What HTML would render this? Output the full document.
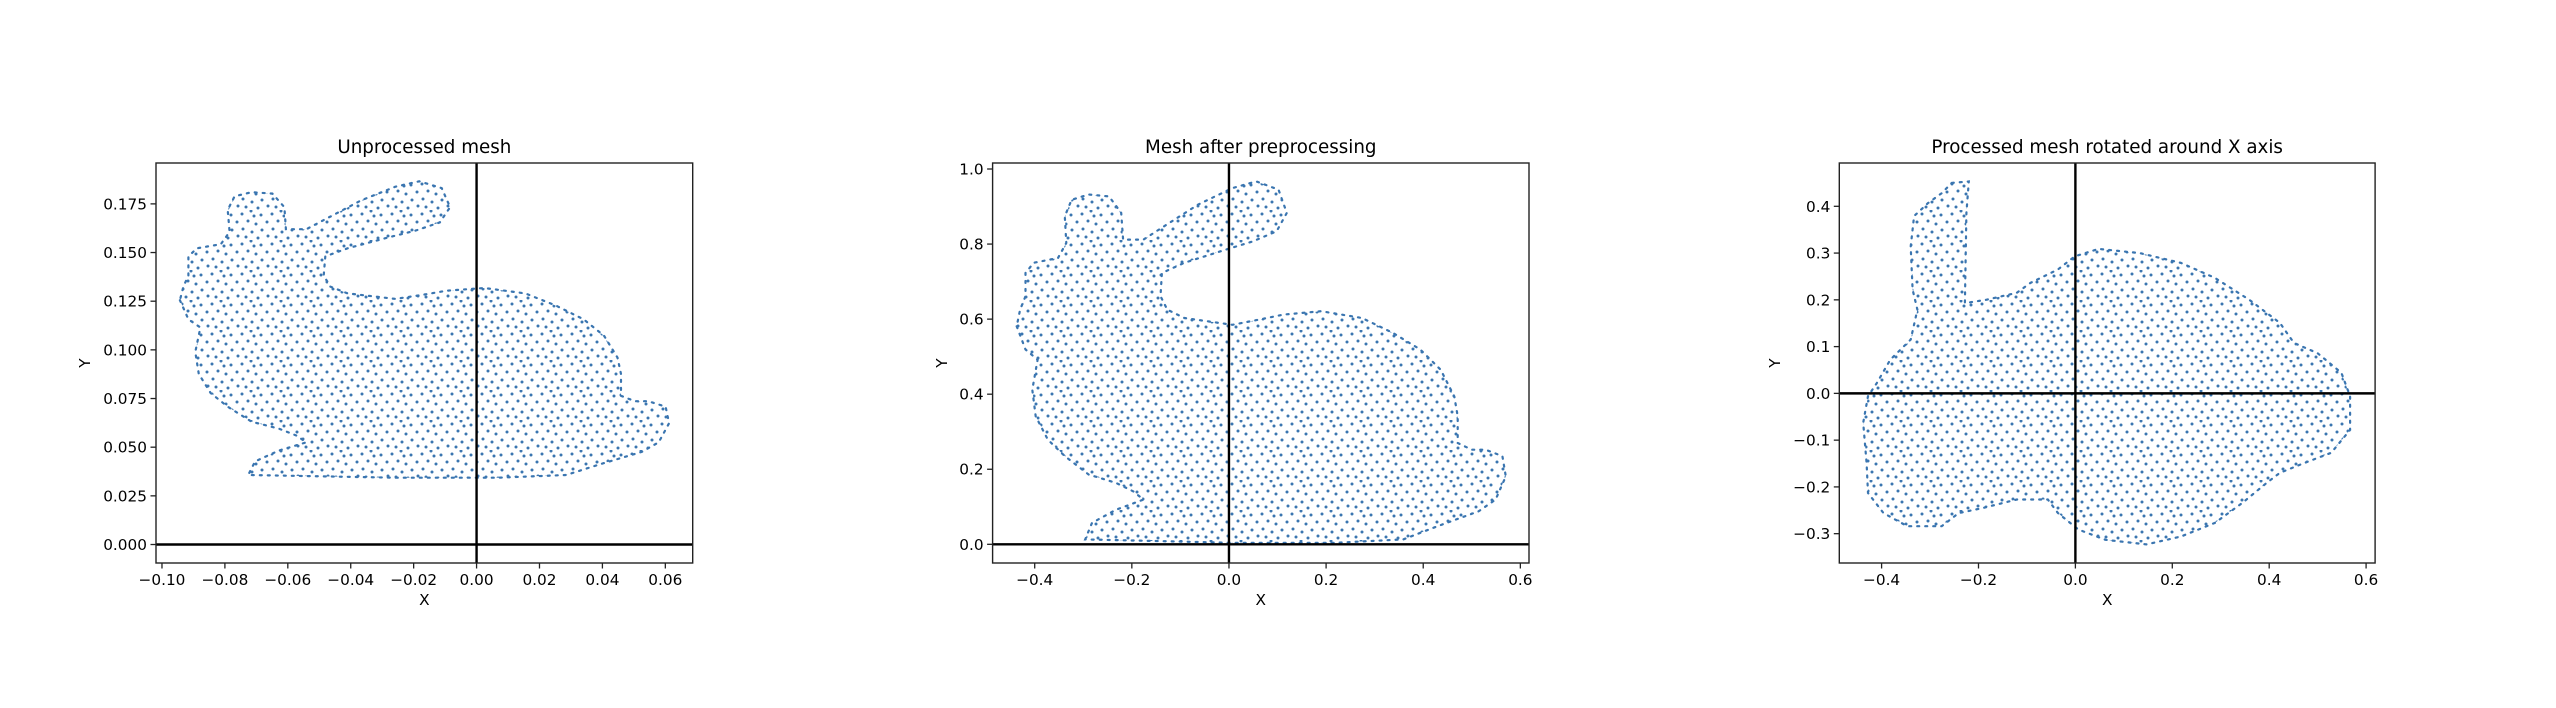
<!DOCTYPE html>
<html><head><meta charset="utf-8">
<style>
html,body{margin:0;padding:0;background:#fff;}
svg{display:block;font-family:"DejaVu Sans","Liberation Sans",sans-serif;}
</style></head>
<body>
<svg id="fig" width="2556" height="708" viewBox="0 0 2556 708" xmlns="http://www.w3.org/2000/svg">
<defs>
<pattern id="dots" patternUnits="userSpaceOnUse" width="30" height="30">
<circle cx="2" cy="4" r="1.5" fill="#3a75b0"/>
<circle cx="11" cy="1" r="1.5" fill="#3a75b0"/>
<circle cx="21" cy="5" r="1.5" fill="#3a75b0"/>
<circle cx="27" cy="12" r="1.5" fill="#3a75b0"/>
<circle cx="8" cy="11" r="1.5" fill="#3a75b0"/>
<circle cx="16" cy="14" r="1.5" fill="#3a75b0"/>
<circle cx="3" cy="19" r="1.5" fill="#3a75b0"/>
<circle cx="22" cy="20" r="1.5" fill="#3a75b0"/>
<circle cx="12" cy="22" r="1.5" fill="#3a75b0"/>
<circle cx="28" cy="26" r="1.5" fill="#3a75b0"/>
<circle cx="6" cy="27" r="1.5" fill="#3a75b0"/>
<circle cx="18" cy="28" r="1.5" fill="#3a75b0"/>
<circle cx="14" cy="6" r="1.5" fill="#3a75b0"/>
</pattern>
</defs>
</svg>
<script>
// Chart 1: Unprocessed mesh — outline of point cloud (x, y)
const c1X = [-0.0943,-0.0916,-0.0878,-0.0894,-0.0883,-0.0845,-0.0791,-0.0715,-0.0628,-0.0573,-0.0541,-0.0628,-0.0704,-0.0726,-0.0258,0.0068,0.0285,0.0394,0.0525,0.0579,0.0612,0.0601,0.0546,0.0503,0.0459,0.0459,0.0448,0.0405,0.0340,0.0253,0.0155,0.0025,-0.0095,-0.0171,-0.0258,-0.0410,-0.0465,-0.0486,-0.0481,-0.0410,-0.0280,-0.0193,-0.0117,-0.0084,-0.0111,-0.0182,-0.0258,-0.0367,-0.0475,-0.0541,-0.0606,-0.0611,-0.0649,-0.0715,-0.0769,-0.0791,-0.0785,-0.0813,-0.0889,-0.0916,-0.0916,-0.0932];
const c1Y = [0.1255,0.1157,0.1115,0.0989,0.0876,0.0778,0.0708,0.0631,0.0595,0.0560,0.0525,0.0483,0.0427,0.0357,0.0343,0.0343,0.0357,0.0413,0.0476,0.0525,0.0623,0.0708,0.0736,0.0736,0.0764,0.0876,0.0960,0.1073,0.1157,0.1227,0.1290,0.1318,0.1304,0.1283,0.1262,0.1290,0.1325,0.1382,0.1480,0.1522,0.1578,0.1613,0.1655,0.1733,0.1831,0.1866,0.1838,0.1768,0.1676,0.1620,0.1620,0.1733,0.1803,0.1810,0.1789,0.1719,0.1606,0.1543,0.1522,0.1480,0.1382,0.1325];
const c1XTicks = [-0.10,-0.08,-0.06,-0.04,-0.02,0.00,0.02,0.04,0.06];
const c1XLabels = ["\u22120.10","\u22120.08","\u22120.06","\u22120.04","\u22120.02","0.00","0.02","0.04","0.06"];
const c1YTicks = [0,0.025,0.05,0.075,0.1,0.125,0.15,0.175];
const c1YLabels = ["0.000","0.025","0.050","0.075","0.100","0.125","0.150","0.175"];

// Chart 2: Mesh after preprocessing
const c2X = [-0.437,-0.419,-0.394,-0.405,-0.398,-0.373,-0.338,-0.289,-0.233,-0.197,-0.176,-0.233,-0.282,-0.296,0.007,0.218,0.359,0.429,0.514,0.549,0.570,0.563,0.528,0.500,0.471,0.471,0.464,0.436,0.394,0.338,0.274,0.190,0.112,0.063,0.007,-0.092,-0.127,-0.141,-0.138,-0.092,-0.007,0.049,0.098,0.119,0.102,0.056,0.007,-0.064,-0.134,-0.176,-0.218,-0.222,-0.247,-0.289,-0.324,-0.338,-0.335,-0.352,-0.402,-0.419,-0.419,-0.430];
const c2Y = [0.581,0.519,0.492,0.412,0.341,0.279,0.235,0.186,0.164,0.141,0.119,0.092,0.057,0.013,0.004,0.004,0.013,0.048,0.088,0.119,0.181,0.235,0.252,0.252,0.270,0.341,0.394,0.465,0.519,0.563,0.603,0.621,0.612,0.599,0.585,0.603,0.625,0.661,0.723,0.750,0.785,0.807,0.834,0.883,0.945,0.967,0.949,0.905,0.847,0.812,0.812,0.883,0.927,0.932,0.918,0.874,0.803,0.763,0.750,0.723,0.661,0.625];
const c2XTicks = [-0.4,-0.2,0,0.2,0.4,0.6];
const c2XLabels = ["\u22120.4","\u22120.2","0.0","0.2","0.4","0.6"];
const c2YTicks = [0,0.2,0.4,0.6,0.8,1.0];
const c2YLabels = ["0.0","0.2","0.4","0.6","0.8","1.0"];

// Chart 3: Processed mesh rotated around X axis
const c3X = [-0.255,-0.220,-0.225,-0.228,-0.184,-0.121,-0.093,-0.036,-0.001,0.048,0.133,0.218,0.288,0.359,0.422,0.451,0.500,0.549,0.567,0.567,0.528,0.472,0.422,0.394,0.345,0.288,0.218,0.147,0.062,0.006,-0.036,-0.057,-0.121,-0.191,-0.241,-0.276,-0.347,-0.396,-0.428,-0.431,-0.438,-0.428,-0.410,-0.382,-0.340,-0.326,-0.336,-0.340,-0.333,-0.304,-0.276];
const c3Y = [0.450,0.453,0.386,0.193,0.200,0.215,0.236,0.265,0.293,0.309,0.300,0.279,0.247,0.200,0.151,0.108,0.086,0.044,-0.006,-0.078,-0.127,-0.149,-0.170,-0.192,-0.234,-0.277,-0.306,-0.323,-0.313,-0.291,-0.256,-0.227,-0.227,-0.245,-0.256,-0.284,-0.284,-0.256,-0.213,-0.149,-0.063,-0.006,0.022,0.072,0.115,0.179,0.222,0.314,0.379,0.407,0.428];
const c3XTicks = [-0.4,-0.2,0,0.2,0.4,0.6];
const c3XLabels = ["\u22120.4","\u22120.2","0.0","0.2","0.4","0.6"];
const c3YTicks = [-0.3,-0.2,-0.1,0,0.1,0.2,0.3,0.4];
const c3YLabels = ["\u22120.3","\u22120.2","\u22120.1","0.0","0.1","0.2","0.3","0.4"];

const NS = "http://www.w3.org/2000/svg";
const fig = document.getElementById("fig");
function mk(tag, attrs, parent){
  const e = document.createElementNS(NS, tag);
  for (const k in attrs) e.setAttribute(k, attrs[k]);
  (parent||fig).appendChild(e);
  return e;
}

const charts = [
  {key:"unprocessed", title:"Unprocessed mesh", L:156, R:692.7, T:163, B:563, xmin:-0.1019, xmax:0.0687, ymin:-0.0095, ymax:0.196, xs:c1X, ys:c1Y, xt:c1XTicks, xl:c1XLabels, yt:c1YTicks, yl:c1YLabels, ylabX:85},
  {key:"preprocessed", title:"Mesh after preprocessing", L:992.6, R:1529, T:163, B:563, xmin:-0.4867, xmax:0.6178, ymin:-0.0498, ymax:1.016, xs:c2X, ys:c2Y, xt:c2XTicks, xl:c2XLabels, yt:c2YTicks, yl:c2YLabels, ylabX:942},
  {key:"rotated", title:"Processed mesh rotated around X axis", L:1839.3, R:2375.1, T:163, B:563, xmin:-0.4873, xmax:0.6186, ymin:-0.3627, ymax:0.4926, xs:c3X, ys:c3Y, xt:c3XTicks, xl:c3XLabels, yt:c3YTicks, yl:c3YLabels, ylabX:1775}
];

charts.forEach(function(c, idx){
  const sx = v => c.L + (v - c.xmin) / (c.xmax - c.xmin) * (c.R - c.L);
  const sy = v => c.B - (v - c.ymin) / (c.ymax - c.ymin) * (c.B - c.T);
  const g = mk("g", {});
  
  

  const clipId = "clip" + idx;
  const cp = mk("clipPath", {id: clipId}, g);
  mk("rect", {x:c.L, y:c.T, width:c.R-c.L, height:c.B-c.T}, cp);

  let pts = [];
  for (let i = 0; i < c.xs.length; i++) pts.push(sx(c.xs[i]).toFixed(1) + "," + sy(c.ys[i]).toFixed(1));
  const poly = mk("polygon", {points: pts.join(" "), fill: "url(#dots)", stroke: "#3a75b0", "stroke-width": 2.2, "stroke-dasharray": "2 6", "stroke-linecap": "round", "clip-path": "url(#" + clipId + ")"}, g);
  
  

  const hz = mk("line", {x1:c.L, x2:c.R, y1:sy(0), y2:sy(0), stroke:"#000", "stroke-width":2.4}, g);
  
  
  const vz = mk("line", {x1:sx(0), x2:sx(0), y1:c.T, y2:c.B, stroke:"#000", "stroke-width":2.4}, g);
  
  

  const fr = mk("rect", {x:c.L, y:c.T, width:c.R-c.L, height:c.B-c.T, fill:"none", stroke:"#222", "stroke-width":1.4}, g);
  
  

  c.xt.forEach(function(v, i){
    const x = sx(v);
    const t = mk("line", {x1:x, x2:x, y1:c.B, y2:c.B+5.5, stroke:"#222", "stroke-width":1.3}, g);
    
    
    const lb = mk("text", {x:x, y:c.B+22, "font-size":15.3, "text-anchor":"middle", fill:"#000"}, g);
    lb.textContent = c.xl[i];
    
    
  });
  c.yt.forEach(function(v, i){
    const y = sy(v);
    const t = mk("line", {x1:c.L-5.5, x2:c.L, y1:y, y2:y, stroke:"#222", "stroke-width":1.3}, g);
    
    
    const lb = mk("text", {x:c.L-9, y:y+5.5, "font-size":15.3, "text-anchor":"end", fill:"#000"}, g);
    lb.textContent = c.yl[i];
    
    
  });

  const ti = mk("text", {x:(c.L+c.R)/2, y:c.T-10, "font-size":18.3, "text-anchor":"middle", fill:"#000"}, g);
  ti.textContent = c.title;
  
  
  const xl = mk("text", {x:(c.L+c.R)/2, y:605, "font-size":15.3, "text-anchor":"middle", fill:"#000"}, g);
  xl.textContent = "X";
  
  
  const ym = (c.T + c.B) / 2;
  const yl = mk("text", {x:c.ylabX, y:ym, "font-size":15.3, "text-anchor":"middle", fill:"#000", transform:"rotate(-90 " + c.ylabX + " " + ym + ")", dy:"5"}, g);
  yl.textContent = "Y";
  
  
});
</script>
</body></html>
